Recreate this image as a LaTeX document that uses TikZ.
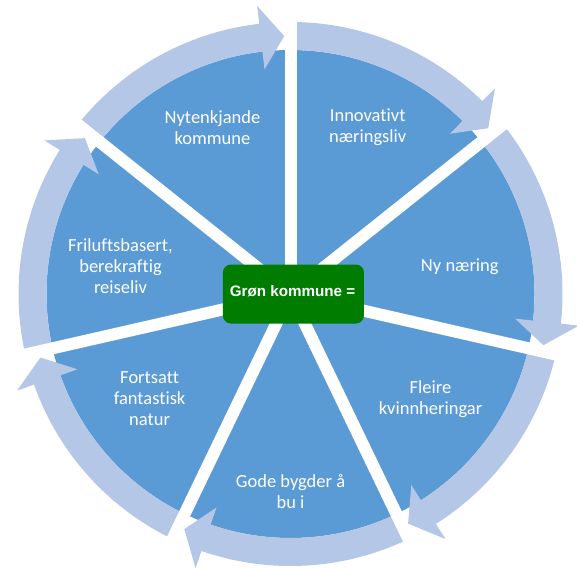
\documentclass[tikz,border=0pt]{standalone}
\usepackage{fontspec}
\setmainfont{Carlito}[Ligatures={NoCommon}]
\newfontfamily\boxfont{Liberation Sans}
\usetikzlibrary{calc}
\definecolor{pieblue}{RGB}{91,155,213}
\definecolor{ringblue}{RGB}{180,199,231}
\definecolor{boxgreen}{RGB}{0,125,0}
\begin{document}
\begin{tikzpicture}[x=1pt,y=1pt,
  wedgetext/.style={text=white, align=center, inner sep=0pt,
    font=\fontsize{18.5}{21}\selectfont},
  greenbox/.style={fill=boxgreen, rounded corners=8pt, minimum width=141pt,
    minimum height=59pt, inner sep=0pt},
  boxtext/.style={text=white, inner sep=0pt,
    font=\boxfont\bfseries\fontsize{15.2}{18}\selectfont}]
\useasboundingbox (0,0) rectangle (577,-567);
\begin{scope}[shift={(290.5,-294)}]
  \coordinate (C) at (0,0);
  \fill[pieblue] (C) circle[radius=244];
  \foreach \k in {0,...,6}{
    \pgfmathsetmacro\a{90-\k*360/7}
    \pgfmathsetmacro\e{\a-360/7}
    \pgfmathsetmacro\b{\e+6.6}
    \pgfmathsetmacro\t{\e+1.4}
    \fill[ringblue] (\a:272) arc[start angle=\a, end angle=\b, radius=272]
      -- (\b:290) -- (\t:258) -- (\b:226) -- (\b:244)
      arc[start angle=\b, end angle=\a, radius=244] -- cycle;
  }
  \foreach \k in {0,...,6}{
    \draw[white, line width=12pt] (C) -- (90-\k*360/7:300);
  }
\end{scope}
\node[greenbox] (box) at (293.4,-294) {};
\node[boxtext] (title) at (292.5,-290.8) {Grøn kommune =};
\node[wedgetext] (w1) at (367.7,-127.7) {Innovativt\\næringsliv};
\node[wedgetext] (w2) at (459.8,-267) {Ny næring};
\node[wedgetext] (w3) at (430.5,-399.5) {Fleire\\kvinnheringar};
\node[wedgetext] (w4) at (290.5,-491.5) {Gode bygder å\\bu i};
\node[wedgetext] (w5) at (149.6,-398.5) {Fortsatt\\fantastisk\\natur};
\node[wedgetext] (w6) at (120.5,-266.5) {Friluftsbasert,\\berekraftig\\reiseliv};
\node[wedgetext] (w7) at (212.4,-127.7) {Nytenkjande\\kommune};
\end{tikzpicture}
\end{document}
